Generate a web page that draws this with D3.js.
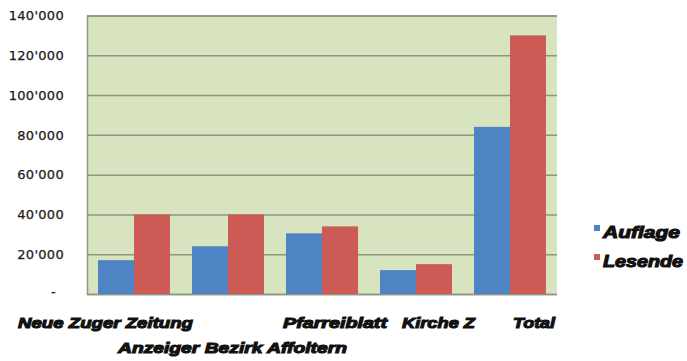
<!DOCTYPE html>
<html><head><meta charset="utf-8">
<script src="https://cdn.jsdelivr.net/npm/d3@7"></script>
<style>body{margin:0;background:#fff}svg{display:block}</style>
</head><body>
<script>
const categories = ["Neue Zuger Zeitung","Anzeiger Bezirk Affoltern","Pfarreiblatt","Kirche Z","Total"];
const seriesNames = ["Auflage","Lesende"];
const auflage = [17000, 24000, 30500, 12000, 84000];
const lesende = [40000, 40000, 34000, 15000, 130000];
const yTicks = [0,20000,40000,60000,80000,100000,120000,140000];
const colors = ["#4f84c4","#cc5a55"];

const W=687,H=361;
const m={left:87,right:557,top:15.5,bottom:294};
const svg=d3.select("body").append("svg").attr("width",W).attr("height",H);

const x=d3.scaleBand().domain(categories).range([m.left,m.right]).paddingInner(0).paddingOuter(0);
const x1=d3.scaleBand().domain(seriesNames).range([0,72]);
const y=d3.scaleLinear().domain([0,140000]).range([m.bottom,m.top]);

svg.append("rect").attr("x",m.left).attr("y",m.top).attr("width",m.right-m.left).attr("height",m.bottom-m.top).attr("fill","#d7e4bf");

const fmt=v=>v===0?"-":d3.format(",")(v).replace(/,/g,"'");
const yAxis=svg.append("g").attr("transform",`translate(${m.left},0)`)
  .call(d3.axisLeft(y).tickValues(yTicks).tickSize(-(m.right-m.left)).tickPadding(23).tickFormat(fmt));
yAxis.select(".domain").attr("stroke","#8c9680").attr("stroke-width",1.5);
yAxis.selectAll(".tick line").attr("stroke","#8c9680").attr("stroke-width",1.5);
yAxis.selectAll(".tick text").attr("fill","#1a1a1a").attr("font-family","DejaVu Sans").attr("font-size",13)
  .attr("letter-spacing","0.3").attr("stroke","#1a1a1a").attr("stroke-width",0.25);
yAxis.selectAll(".tick").filter(d=>d===0).select("text").attr("dx",-8).attr("dy","0.1em");

const data=categories.map((c,i)=>({c,vals:[auflage[i],lesende[i]]}));
const g=svg.append("g");
data.forEach(d=>{
  d.vals.forEach((v,j)=>{
    g.append("rect")
      .attr("x",x(d.c)+(x.bandwidth()-72)/2+x1(seriesNames[j]))
      .attr("y",y(v)).attr("width",x1.bandwidth()).attr("height",y(0)-y(v))
      .attr("fill",colors[j]);
  });
});

// x labels (staggered), heavy oblique look
const labelFont=t=>t.attr("font-family","Liberation Sans").attr("font-weight","bold").attr("font-style","italic")
  .attr("font-size",15).attr("fill","#111").attr("stroke","#111").attr("stroke-width",1.1)
  .attr("lengthAdjust","spacingAndGlyphs");
const labelDx=[-28.5,4.5,13,22.5,24];
const labelW=[175,229,104,73,42];
categories.forEach((c,i)=>{
  const row=i===1?1:0;
  svg.append("text").attr("x",x(c)+x.bandwidth()/2+labelDx[i]-labelW[i]/2).attr("y",row?353:328)
    .attr("textLength",labelW[i]).text(c).call(labelFont);
});

// legend
const legW=[77,80];
seriesNames.forEach((s,i)=>{
  const ly=238+i*29;
  svg.append("rect").attr("x",594).attr("y",ly-13).attr("width",6).attr("height",6).attr("fill",colors[i]);
  svg.append("text").attr("x",603).attr("y",ly).attr("textLength",legW[i]).text(s).call(labelFont).attr("font-size",16.5);
});
</script>
</body></html>
